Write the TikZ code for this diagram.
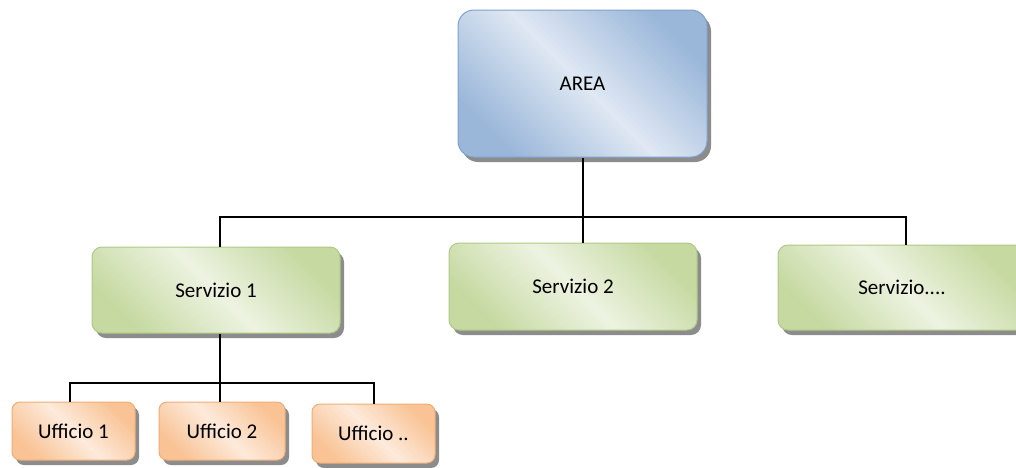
\documentclass[tikz,border=0pt]{standalone}
\usepackage{fontspec}
\setmainfont{Carlito}
\usetikzlibrary{calc,shadows}
\definecolor{bdark}{HTML}{9AB7D9}
\definecolor{blight}{HTML}{DFE8F3}
\definecolor{bline}{HTML}{7FA1CC}
\definecolor{gdark}{HTML}{C6D9A1}
\definecolor{glight}{HTML}{EDF3E1}
\definecolor{gline}{HTML}{AFC884}
\definecolor{odark}{HTML}{F9C395}
\definecolor{olight}{HTML}{FDEADB}
\definecolor{oline}{HTML}{F0AD75}
\tikzset{
  box/.style={rectangle, inner sep=0pt, font=\fontsize{21}{25}\selectfont,
    drop shadow={shadow xshift=4pt, shadow yshift=-5pt, fill=black!45, opacity=1}},
  areabox/.style={box, rounded corners=16pt, draw=bline, line width=1pt,
    left color=bdark, right color=bdark, middle color=blight, shading angle=135},
  servbox/.style={box, rounded corners=10pt, draw=gline, line width=1pt,
    left color=gdark, right color=gdark, middle color=glight, shading angle=135},
  uffbox/.style={box, rounded corners=8pt, draw=oline, line width=1pt,
    left color=odark, right color=odark, middle color=olight, shading angle=135},
  conn/.style={line width=2.5pt, black}
}
\begin{document}
\begin{tikzpicture}[x=1pt,y=-1pt]
\useasboundingbox (0,0) rectangle (1016,467);
\coordinate (bus) at (0,217);
\coordinate (bus2) at (0,383);
\node[areabox, minimum width=249pt, minimum height=147pt] (area) at (582.5,83.5) {AREA};
\node[servbox, minimum width=248pt, minimum height=86pt] (s1) at (216,290) {Servizio 1};
\node[servbox, minimum width=248pt, minimum height=87pt] (s2) at (573,286.5) {Servizio 2};
\node[servbox, minimum width=248pt, minimum height=85pt] (s3) at (902,287.5) {Servizio....};
\node[uffbox, minimum width=123pt, minimum height=58pt] (u1) at (73.5,431) {Ufficio 1};
\node[uffbox, minimum width=126pt, minimum height=58pt] (u2) at (222,431) {Ufficio 2};
\node[uffbox, minimum width=123pt, minimum height=59pt] (u3) at (373.5,433.5) {Ufficio ..};
% top tree
\coordinate (a0) at ($(area.south)+(0.5,0)$);
\coordinate (t1) at ($(s1.north)+(4,0)$);
\coordinate (t2) at ($(s2.north)+(10,0)$);
\coordinate (t3) at ($(s3.north)+(4,0)$);
\draw[conn] (a0) -- (a0 |- bus);
\draw[conn] (t1) -- (t1 |- bus) -- (t3 |- bus) -- (t3);
\draw[conn] (t2) -- (t2 |- bus);
% bottom tree
\coordinate (b0) at ($(s1.south)+(4,0)$);
\coordinate (v1) at ($(u1.north)+(-3.5,0)$);
\coordinate (v2) at ($(u2.north)+(-2,0)$);
\coordinate (v3) at ($(u3.north)+(0.5,0)$);
\draw[conn] (b0) -- (b0 |- bus2);
\draw[conn] (v1) -- (v1 |- bus2) -- (v3 |- bus2) -- (v3);
\draw[conn] (v2) -- (v2 |- bus2);
\end{tikzpicture}
\end{document}
